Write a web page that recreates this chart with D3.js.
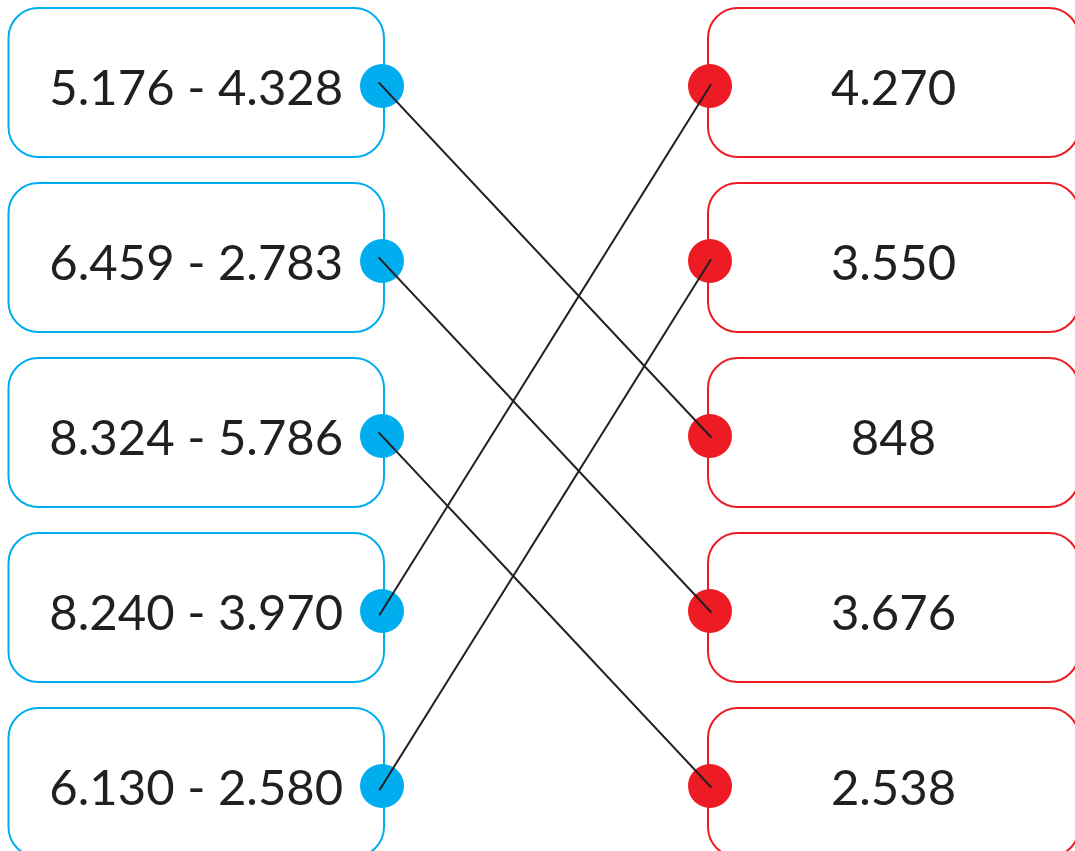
<!DOCTYPE html>
<html>
<head>
<meta charset="utf-8">
<script src="https://cdn.jsdelivr.net/npm/d3@7"></script>
<style>
  html, body { margin: 0; padding: 0; background: #fff; }
  svg { display: block; }
</style>
</head>
<body>
<div id="container"></div>
<script>
var WIDTH = 1075;
var HEIGHT = 851;

// left column: minuend - subtrahend
const minuends = [5176, 6459, 8324, 8240, 6130];
const subtrahends = [4328, 2783, 5786, 3970, 2580];
// right column: results, in the order shown
const results = [4270, 3550, 848, 3676, 2538];

const BLUE = '#00AEEF';
const RED = '#ED1C24';
const INK = '#231F20';

const locale = d3.formatLocale({ decimal: ',', thousands: '.', grouping: [3], currency: ['', ''] });
const fmt = locale.format(',d');

const svg = d3.select('#container')
  .append('svg')
    .attr('width', WIDTH)
    .attr('height', HEIGHT);

const rows = d3.range(minuends.length);

// y of the dots (row anchors)
const y = d3.scalePoint()
            .domain(rows)
            .range([86, 786]);

const BOX_H = 149;
const BOX_R = 30;
const DOT_R = 22;
const left = { x0: 8.5, x1: 384 };
const right = { x0: 708, x1: 1079 };

// links: each expression goes to its result
const links = rows.map(i => {
  const j = results.indexOf(minuends[i] - subtrahends[i]);
  return { source: i, target: j };
});

// boxes
svg.selectAll('.lbox')
   .data(rows)
   .enter()
   .append('rect')
   .attr('class', 'lbox')
   .attr('x', left.x0)
   .attr('y', i => y(i) - 3.5 - BOX_H / 2)
   .attr('width', left.x1 - left.x0)
   .attr('height', BOX_H)
   .attr('rx', BOX_R)
   .attr('fill', 'white')
   .attr('stroke', BLUE)
   .attr('stroke-width', 2);

svg.selectAll('.rbox')
   .data(rows)
   .enter()
   .append('rect')
   .attr('class', 'rbox')
   .attr('x', right.x0)
   .attr('y', i => y(i) - 3.5 - BOX_H / 2)
   .attr('width', right.x1 - right.x0)
   .attr('height', BOX_H)
   .attr('rx', BOX_R)
   .attr('fill', 'white')
   .attr('stroke', RED)
   .attr('stroke-width', 2);

// texts
svg.selectAll('.ltext')
   .data(rows)
   .enter()
   .append('text')
   .attr('class', 'ltext')
   .attr('x', (left.x0 + left.x1) / 2)
   .attr('y', i => y(i) + 19)
   .text(i => fmt(minuends[i]) + ' - ' + fmt(subtrahends[i]))
   .attr('fill', INK)
   .style('font-size', '49px')
   .style('font-family', 'Lato, sans-serif')
   .style('text-anchor', 'middle')
   .style('white-space', 'pre');

svg.selectAll('.rtext')
   .data(results)
   .enter()
   .append('text')
   .attr('class', 'rtext')
   .attr('x', (right.x0 + right.x1) / 2)
   .attr('y', (d, i) => y(i) + 19)
   .text(d => fmt(d))
   .attr('fill', INK)
   .style('font-size', '49px')
   .style('font-family', 'Lato, sans-serif')
   .style('text-anchor', 'middle');

// dots
svg.selectAll('.ldot')
   .data(rows)
   .enter()
   .append('circle')
   .attr('class', 'ldot')
   .attr('cx', left.x1 - 2)
   .attr('cy', i => y(i))
   .attr('r', DOT_R)
   .attr('fill', BLUE);

svg.selectAll('.rdot')
   .data(rows)
   .enter()
   .append('circle')
   .attr('class', 'rdot')
   .attr('cx', right.x0 + 2)
   .attr('cy', i => y(i))
   .attr('r', DOT_R)
   .attr('fill', RED);

// connecting lines, running a little past each dot centre
function endpoints(l) {
  const xa = left.x1 - 2, ya = y(l.source);
  const xb = right.x0 + 2, yb = y(l.target);
  const len = Math.hypot(xb - xa, yb - ya);
  const ux = (xb - xa) / len, uy = (yb - ya) / len;
  return { x1: xa - ux * 5, y1: ya - uy * 5, x2: xb + ux * 2, y2: yb + uy * 2 };
}

svg.selectAll('.link')
   .data(links)
   .enter()
   .append('line')
   .attr('class', 'link')
   .attr('x1', l => endpoints(l).x1)
   .attr('y1', l => endpoints(l).y1)
   .attr('x2', l => endpoints(l).x2)
   .attr('y2', l => endpoints(l).y2)
   .attr('stroke', INK)
   .attr('stroke-width', 2);
</script>
</body>
</html>
